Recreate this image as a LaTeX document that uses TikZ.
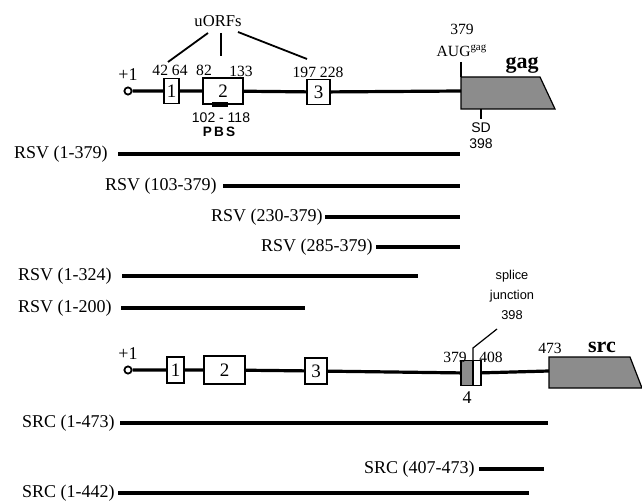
\documentclass[tikz,border=0pt]{standalone}
\usepackage{fontspec}
\setmainfont{Liberation Serif}
\setsansfont{Liberation Sans}
\usetikzlibrary{positioning}

\begin{document}
\begin{tikzpicture}[
  x=0.5pt, y=-0.5pt,
  backbone/.style={line width=1.6pt},
  frag/.style={line width=1.8pt},
  orf/.style={draw, line width=0.6pt, fill=white, inner sep=0pt, font=\fontsize{9.5}{10}\selectfont},
  startdot/.style={circle, draw, line width=0.9pt, fill=white, minimum size=3.6pt, inner sep=0pt},
  lbl/.style={font=\fontsize{9}{10}\selectfont, inner sep=0pt},
  num/.style={font=\fontsize{7.8}{8}\selectfont, inner sep=0pt},
  sans/.style={font=\sffamily\fontsize{7}{8}\selectfont, inner sep=0pt, align=center},
  gene/.style={font=\bfseries\fontsize{11}{12}\selectfont, inner sep=0pt},
  cds/.style={draw, line width=0.6pt, fill=black!45},
  tick/.style={line width=0.6pt}
]
\useasboundingbox (0,0) rectangle (642,502);

% leader with the three uORFs and gag
\node[startdot] (cap1) at (128,91) {};
\node[num, font=\fontsize{9}{9}\selectfont] (plus1) at (128,75) {+1};
\node[orf, minimum width=7.5pt, minimum height=12.5pt] (orf1) at (171.5,91) {1};
\node[orf, minimum width=20pt, minimum height=13pt] (orf2) at (223,91) {2};
\node[orf, minimum width=11.5pt, minimum height=12.5pt] (orf3) at (318.5,92) {3};
\draw[cds] (461,77) -- (540,77) -- (555,109) -- (461,109) -- cycle;
\coordinate (gag) at (461,91);
\draw[backbone] (cap1) -- (orf1) -- (orf2) -- (orf3) -- (gag);
\fill (212,102) rectangle (228,107);

\node[num] (n4264) at (170,70) {42 64};
\node[num] (n82) at (204,70) {82};
\node[num] (n133) at (241,71) {133};
\node[num] (n197) at (318,72) {197 228};
\node[sans] (pbsnum) at (221,118) {102 - 118};
\node[sans, font=\sffamily\bfseries\fontsize{6.8}{7}\selectfont] (pbs) at (219,132) {P\,B\,S};

\node[num, font=\fontsize{8.3}{9}\selectfont] (uorfs) at (218,21) {uORFs};
\coordinate (ua1) at (208,33); \coordinate (ub1) at (168,62);
\coordinate (ua2) at (221,33); \coordinate (ub2) at (221,56);
\coordinate (ua3) at (238,32); \coordinate (ub3) at (307,59);
\draw[line width=0.9pt] (ua1) -- (ub1);
\draw[line width=0.9pt] (ua2) -- (ub2);
\draw[line width=0.9pt] (ua3) -- (ub3);

\node[num] (n379a) at (462,29) {379};
\node[num] (aug) at (462,51) {AUG\textsuperscript{gag}};
\coordinate (augtop) at (461,62); \coordinate (gagtop) at (461,77);
\draw[tick] (augtop) -- (gagtop);
\node[gene] (gaglbl) at (522,65) {gag};
\coordinate (sdtop) at (481,109); \coordinate (sdbot) at (481,119);
\draw[tick] (sdtop) -- (sdbot);
\node[sans] (sd) at (481,136) {SD\\398};

% RSV fragments
\coordinate (r1a) at (118,154); \coordinate (r1b) at (460,154);
\node[lbl, left=5pt of r1a] (r1) {RSV (1-379)};
\draw[frag] (r1a) -- (r1b);
\coordinate (r2a) at (223,186); \coordinate (r2b) at (460,186);
\node[lbl, left=3pt of r2a] (r2) {RSV (103-379)};
\draw[frag] (r2a) -- (r2b);
\coordinate (r3a) at (325,217); \coordinate (r3b) at (460,217);
\node[lbl, left=1pt of r3a] (r3) {RSV (230-379)};
\draw[frag] (r3a) -- (r3b);
\coordinate (r4a) at (376,247); \coordinate (r4b) at (460,247);
\node[lbl, left=1.5pt of r4a] (r4) {RSV (285-379)};
\draw[frag] (r4a) -- (r4b);
\coordinate (r5a) at (122,276); \coordinate (r5b) at (418,276);
\node[lbl, left=5pt of r5a] (r5) {RSV (1-324)};
\draw[frag] (r5a) -- (r5b);
\coordinate (r6a) at (121,308); \coordinate (r6b) at (305,308);
\node[lbl, left=4.5pt of r6a] (r6) {RSV (1-200)};
\draw[frag] (r6a) -- (r6b);

% spliced src leader
\node[startdot] (cap2) at (128,370) {};
\node[num, font=\fontsize{9}{9}\selectfont] (plus2) at (128,354) {+1};
\node[orf, minimum width=8.5pt, minimum height=13pt] (orfb1) at (175.5,370) {1};
\node[orf, minimum width=20.5pt, minimum height=14pt] (orfb2) at (224.5,370) {2};
\node[orf, minimum width=11pt, minimum height=13pt] (orfb3) at (316,371) {3};
\node[cds, minimum width=6pt, minimum height=12.5pt, inner sep=0pt] (ex4) at (467,373) {};
\node[orf, minimum width=4pt, minimum height=12.5pt] (ex4w) at (477,373) {};
\draw[cds] (549,357) -- (630,357) -- (642,388) -- (549,388) -- cycle;
\coordinate (src) at (549,371);
\draw[backbone] (cap2) -- (orfb1) -- (orfb2) -- (orfb3) -- (ex4);
\draw[backbone] (ex4w) -- (src);

\node[num, font=\fontsize{9}{9}\selectfont] (n4) at (467,398) {4};
\node[num] (n379b) at (455,357) {379};
\node[num] (n408) at (491,357) {408};
\node[num] (n473) at (550,348) {473};
\node[gene] (srclbl) at (602,347) {src};
\node[sans, font=\sffamily\fontsize{6.4}{10}\selectfont] (splice) at (512,295) {splice\\junction\\398};
\coordinate (sj1) at (497,329); \coordinate (sj2) at (473,348); \coordinate (sj3) at (473,361);
\draw[tick] (sj1) -- (sj2) -- (sj3);

% SRC fragments
\coordinate (s1a) at (120,423); \coordinate (s1b) at (548,423);
\node[lbl, left=2.5pt of s1a] (s1) {SRC (1-473)};
\draw[frag] (s1a) -- (s1b);
\coordinate (s2a) at (479,469); \coordinate (s2b) at (544,469);
\node[lbl, left=2pt of s2a] (s2) {SRC (407-473)};
\draw[frag] (s2a) -- (s2b);
\coordinate (s3a) at (118,493); \coordinate (s3b) at (529,493);
\node[lbl, left=1.5pt of s3a] (s3) {SRC (1-442)};
\draw[frag] (s3a) -- (s3b);
\end{tikzpicture}
\end{document}
